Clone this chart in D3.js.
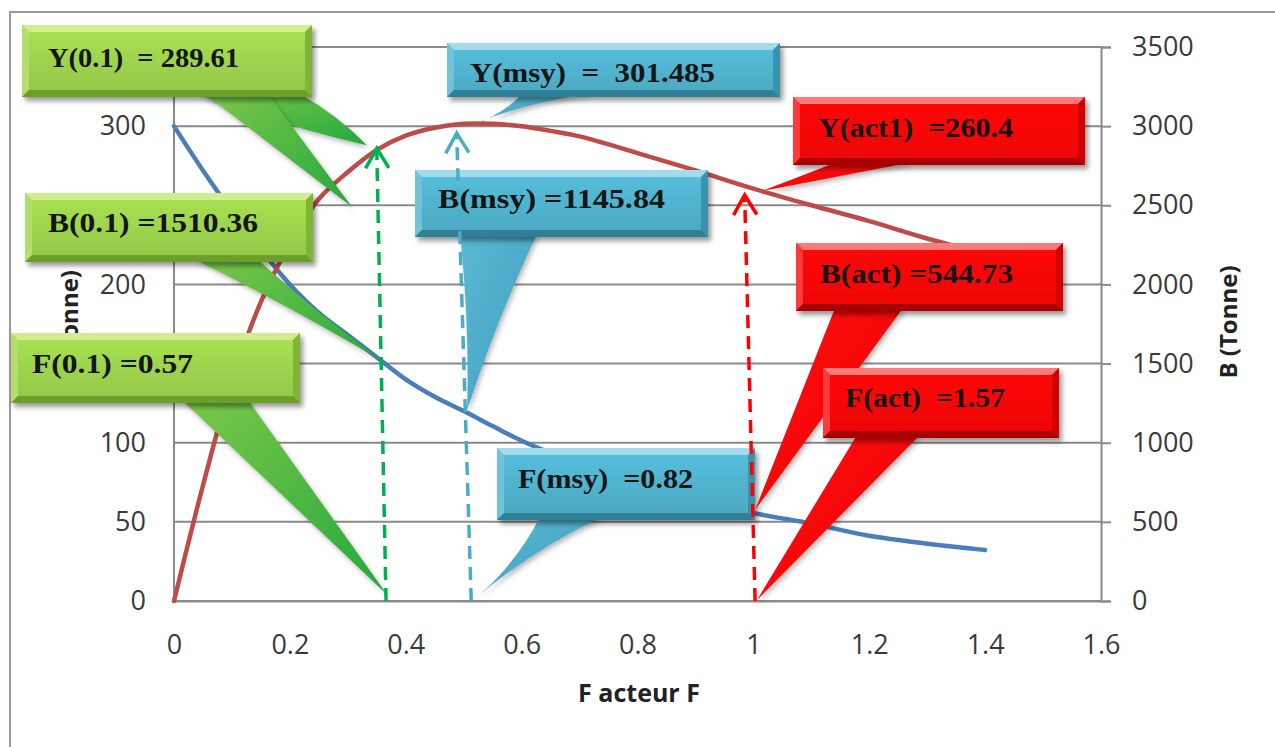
<!DOCTYPE html>
<html><head><meta charset="utf-8">
<script src="https://cdn.jsdelivr.net/npm/d3@7"></script>
<style>
body{margin:0;background:#fff}
text{white-space:pre}
</style>
</head><body>
<svg id="c" width="1275" height="747"></svg>
<script>
// ---------- data ----------
const fValues = [0,0.05,0.1,0.15,0.2,0.25,0.3,0.35,0.4,0.45,0.5,0.55,0.6,0.65,0.7,0.8,0.9,1.0,1.1,1.2,1.3,1.4];
const yieldValues = [0,73,139,189,226,254,271,285,294,299,301.5,301.5,300,297,293.5,283,272,260.5,250,240,229,219];
const biomassValues = [3000,2720,2460,2220,2000,1820,1680,1540,1400,1290,1200,1105,1012,935,865,745,645,556,489,412,362,322];
const xTicks = [0,0.2,0.4,0.6,0.8,1,1.2,1.4,1.6];
const leftTickLabels = [0,50,100,200,300]; // labels visible (others hidden behind callouts)
const rightTicks = [0,500,1000,1500,2000,2500,3000,3500];

// reference (dashed) arrows
const refFBottom = [0.366,0.513,1.003];
const refFTop = [0.350,0.488,0.985];
const refYTop = [286,295.6,256.5];
const refColors = ["#00B050","#4BACC6","#FF0000"];

// callouts
const calloutLabels = ["Y(0.1)  = 289.61","B(0.1) =1510.36","F(0.1) =0.57",
  "Y(msy)  =  301.485","B(msy) =1145.84","F(msy)  =0.82",
  "Y(act1)  =260.4","B(act) =544.73","F(act)  =1.57"];
const calloutTheme = ["g","g","g","b","b","b","r","r","r"];
const calloutTipF = [0.333,0.362,0.368,0.514,0.506,0.523,1.015,1.003,1.006];
const calloutTipV = [288,1510,4,301,1207,2.5,259,575,0.5];
const calloutTipAxis = ["L","R","L","L","R","L","L","R","L"];

// ---------- layout ----------
const svg=d3.select("#c");
const x=d3.scaleLinear().domain([0,1.6]).range([174,1101]);
const yL=d3.scaleLinear().domain([0,350]).range([601,47]);
const yR=d3.scaleLinear().domain([0,3500]).range([601,47]);
const gridColor="#8a8a8a";

const defs=svg.append("defs");
defs.append("filter").attr("id","sh").attr("x","-10%").attr("y","-20%").attr("width","130%").attr("height","160%")
  .append("feGaussianBlur").attr("stdDeviation",2.5);

// outer border
svg.append("rect").attr("x",10).attr("y",12).attr("width",1300).attr("height",800)
  .attr("fill","none").attr("stroke","#9a9a9a").attr("stroke-width",2);

// gridlines
svg.append("g").selectAll("line").data(rightTicks).join("line")
  .attr("x1",x(0)).attr("x2",x(1.6)).attr("y1",d=>yR(d)).attr("y2",d=>yR(d))
  .attr("stroke",gridColor).attr("stroke-width",2);

// axes
const fontTick="'Open Sans', 'DejaVu Sans', sans-serif";
const axL=svg.append("g").attr("transform",`translate(${x(0)},0)`)
  .call(d3.axisLeft(yL).tickValues(leftTickLabels).tickSize(0).tickPadding(28).tickFormat(d3.format("d")));
const axR=svg.append("g").attr("transform",`translate(${x(1.6)},0)`)
  .call(d3.axisRight(yR).tickValues(rightTicks).tickSize(10).tickPadding(21).tickFormat(d3.format("d")));
const axB=svg.append("g").attr("transform",`translate(0,${yL(0)})`)
  .call(d3.axisBottom(x).tickValues(xTicks).tickSize(0).tickPadding(34).tickFormat(d=>String(d)));
axL.select(".domain").attr("d",`M0,${yL(350)}V${yL(0)}`);
[axL,axR,axB].forEach(a=>{
  a.select(".domain").attr("stroke",gridColor).attr("stroke-width",2);
  a.selectAll(".tick line").attr("stroke",gridColor).attr("stroke-width",2);
  a.selectAll("text").attr("font-family",fontTick).attr("font-size",27).attr("fill","#3a3a3a");
});

// axis titles
svg.append("text").attr("transform",`translate(${639},${702})`).attr("text-anchor","middle")
  .attr("font-family",fontTick).attr("font-weight","bold").attr("font-size",25).attr("fill","#222")
  .text("F acteur F");
svg.append("text").attr("transform",`translate(${1237},${322}) rotate(-90)`).attr("text-anchor","middle")
  .attr("font-family",fontTick).attr("font-weight","bold").attr("font-size",24).attr("fill","#222")
  .text("B (Tonne)");
svg.append("text").attr("transform",`translate(${78},${326}) rotate(-90)`).attr("text-anchor","middle")
  .attr("font-family",fontTick).attr("font-weight","bold").attr("font-size",24).attr("fill","#222")
  .text("Y (Tonne)");

// curves
const lineY=d3.line().x((d,i)=>x(fValues[i])).y(d=>yL(d)).curve(d3.curveCatmullRom.alpha(0.5));
const lineB=d3.line().x((d,i)=>x(fValues[i])).y(d=>yR(d)).curve(d3.curveCatmullRom.alpha(0.5));
svg.append("path").attr("d",lineB(biomassValues)).attr("fill","none").attr("stroke","#4A7EBB").attr("stroke-width",4.5).attr("stroke-linecap","round");
svg.append("path").attr("d",lineY(yieldValues)).attr("fill","none").attr("stroke","#BE4B48").attr("stroke-width",4.5).attr("stroke-linecap","round");

// ---------- callouts ----------
const themes={
  g:{base:"#9BD04C",top:"#D2EC90",left:"#B4DE6C",right:"#7DB536",bottom:"#6B9E2B",tailA:"#7CC848",tailB:"#24A83E"},
  b:{base:"#4FB0CB",top:"#A3DBEC",left:"#72C2D9",right:"#3A93AD",bottom:"#2F7F96",tailA:"#5CB8D2",tailB:"#3AA0C0"},
  r:{base:"#FA0606",top:"#FF7A7A",left:"#FF3A3A",right:"#D00000",bottom:"#A80000",tailA:"#FF1010",tailB:"#F00000"}
};
Object.entries(themes).forEach(([k,t])=>{
  const g=defs.append("linearGradient").attr("id","tail"+k).attr("x1","0").attr("y1","0").attr("x2","1").attr("y2","1");
  g.append("stop").attr("offset","0").attr("stop-color",t.tailA);
  g.append("stop").attr("offset","1").attr("stop-color",t.tailB);
  const b=defs.append("linearGradient").attr("id","body"+k).attr("x1","0").attr("y1","0").attr("x2","0").attr("y2","1");
  b.append("stop").attr("offset","0").attr("stop-color",d3.color(t.base).brighter(0.25));
  b.append("stop").attr("offset","1").attr("stop-color",d3.color(t.base).darker(0.15));
});

// annotation placement (pixels): box rect, text position, tail base
const boxRect=[[22,25,290,72],[25,193,288,69],[11,333,289,70],[447,43,333,54],[415,170,293,67],[497,448,258,72],[793,97,292,68],[796,243,267,68],[823,368,236,70]];
const textPos=[[48,67,191],[48,232,210],[32,373,161],[470,82,245],[438,208,227],[518,488,175],[818,137,195],[820,283,193],[845,407,160]];
const tailBase=[[[197,300],[205,268]],[[194,257]],[[182,248]],[[522,590]],[[460,537]],[[540,602]],[[837,913]],[[835,903]],[[857,920]]];
const tailBend=[[6,0],[-4],[0],[-8],[-6],[-10],[0],[0],[0]];
const extraTip=[[0.307,249]]; // second tail of first callout (F, Y)

function tipPx(i){
  const ys=calloutTipAxis[i]==="L"?yL:yR;
  return [x(calloutTipF[i]),ys(calloutTipV[i])];
}
function tailPath(bx1,bx2,by,tip,bend){
  const p=d3.path();
  const mid=(a,b)=>[(a[0]+b[0])/2,(a[1]+b[1])/2];
  const ctrl=(a,b)=>{const m=mid(a,b);const dx=b[0]-a[0],dy=b[1]-a[1];const L=Math.hypot(dx,dy)||1;return [m[0]-dy/L*bend,m[1]+dx/L*bend];};
  const A=[bx1,by-3],B=[bx2,by-3];
  p.moveTo(A[0],A[1]);
  const c1=ctrl(A,tip);p.quadraticCurveTo(c1[0],c1[1],tip[0],tip[1]);
  const c2=ctrl(tip,B);p.quadraticCurveTo(c2[0],c2[1],B[0],B[1]);
  p.closePath();
  return p.toString();
}

const callG=svg.append("g");
calloutLabels.forEach((lab,i)=>{
  const t=themes[calloutTheme[i]];
  const [bx,by,bw,bh]=boxRect[i];
  const g=callG.append("g");
  tailBase[i].forEach((base,j)=>{
    let tip=tipPx(i);
    if(i===0&&j===1) tip=[x(extraTip[0][0]),yL(extraTip[0][1])];
    const d=tailPath(base[0],base[1],by+bh,tip,tailBend[i][j]);
    g.append("path").attr("d",d).attr("fill","rgba(0,0,0,0.28)").attr("transform","translate(2,3)").attr("filter","url(#sh)");
    g.append("path").attr("d",d).attr("fill",`url(#tail${calloutTheme[i]})`);
  });
  g.append("rect").attr("x",bx+3).attr("y",by+4).attr("width",bw).attr("height",bh)
    .attr("fill","rgba(0,0,0,0.4)").attr("filter","url(#sh)");
  g.append("rect").attr("x",bx).attr("y",by).attr("width",bw).attr("height",bh).attr("fill",`url(#body${calloutTheme[i]})`);
  const b=7;
  const poly=(pts,c)=>g.append("polygon").attr("points",pts.map(p=>p.join(",")).join(" ")).attr("fill",c);
  poly([[bx,by],[bx+bw,by],[bx+bw-b,by+b],[bx+b,by+b]],t.top);
  poly([[bx,by],[bx+b,by+b],[bx+b,by+bh-b],[bx,by+bh]],t.left);
  poly([[bx+bw,by],[bx+bw,by+bh],[bx+bw-b,by+bh-b],[bx+bw-b,by+b]],t.right);
  poly([[bx,by+bh],[bx+bw,by+bh],[bx+bw-b,by+bh-b],[bx+b,by+bh-b]],t.bottom);
  const [tx,ty,tw]=textPos[i];
  g.append("text").attr("x",tx).attr("y",ty).attr("textLength",tw).attr("lengthAdjust","spacingAndGlyphs")
    .attr("font-family","'Liberation Serif','Times New Roman',serif").attr("font-weight","bold")
    .attr("font-size",28).attr("fill","#151515").text(lab);
});

// dashed reference arrows (drawn on top)
refFBottom.forEach((fb,i)=>{
  const x0=x(fb),y0=yL(0),x1=x(refFTop[i]),y1=yL(refYTop[i]);
  const c=refColors[i];
  svg.append("line").attr("x1",x0).attr("y1",y0).attr("x2",x1).attr("y2",y1+2)
    .attr("stroke",c).attr("stroke-width",3.5).attr("stroke-dasharray","13 8");
  const ang=Math.atan2(y0-y1,x0-x1);
  const wl=23,sp=0.53;
  const w1=[x1+wl*Math.cos(ang-sp),y1+wl*Math.sin(ang-sp)];
  const w2=[x1+wl*Math.cos(ang+sp),y1+wl*Math.sin(ang+sp)];
  svg.append("path").attr("d",`M${w1[0]},${w1[1]}L${x1},${y1}L${w2[0]},${w2[1]}`)
    .attr("fill","none").attr("stroke",c).attr("stroke-width",3.5);
});
</script>
</body></html>
